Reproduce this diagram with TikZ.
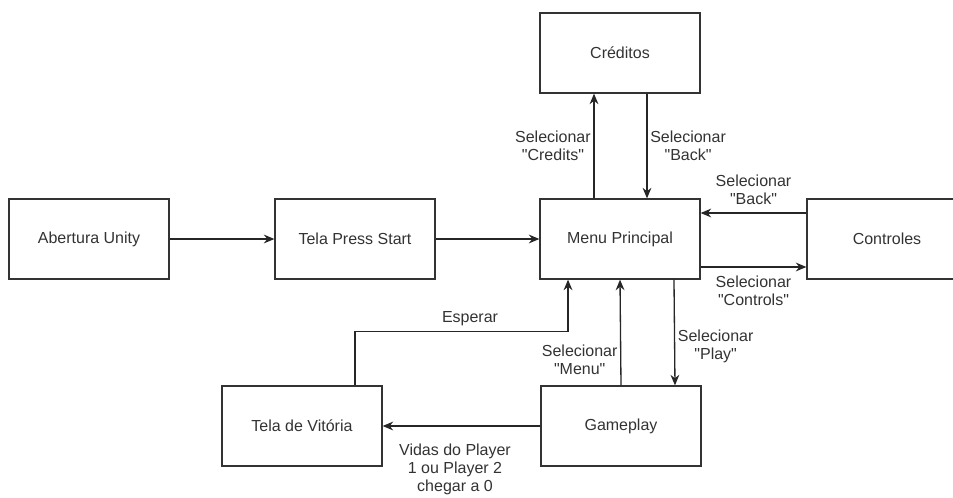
\documentclass[tikz,border=0pt]{standalone}
\usepackage{fontspec}
\setmainfont{Liberation Sans}[Ligatures=TeXOff]
\usetikzlibrary{arrows.meta}
\begin{document}
\begin{tikzpicture}
        [
        x=0.02cm, y=-0.02cm,
        Box/.style={rectangle,draw=black!80,line width=0.75pt,text=black!80,font=\fontsize{9.1pt}{10.2pt}\selectfont, minimum width=3.2cm, minimum height=1.6cm},
            Tag/.style={rectangle,text=black!80,font=\fontsize{9.1pt}{10.2pt}\selectfont,align=center,inner sep=1.5pt},
			Flow/.style={draw=black!85,line width=0.75pt,-{Stealth[length=6pt,width=5pt]}},
        ]
    
        \clip (0,0) rectangle (953,497);
        \fill[white] (0,0) rectangle (953,497);
        \node[Box] (cred) at (620,53){Créditos};
		\node[Box] (abert) at (89,239){Abertura Unity};
        \node[Box] (press) at (355,239){Tela Press Start};
        \node[Box] (menu) at (620,239){Menu Principal};
\node[Box] (ctrl) at (887,239){Controles};
\node[Box] (vit) at (302,426){Tela de Vitória};
\node[Box] (game) at (621,426){Gameplay};

\draw[Flow] (abert) -- (press);
\draw[Flow] (press) -- (menu);

\draw[Flow] ([xshift=-0.52cm]menu.north) -- node[Tag,anchor=east]{Selecionar\\"Credits"} ([xshift=-0.52cm]cred.south);
\draw[Flow] ([xshift=0.54cm]cred.south) -- node[Tag,anchor=west]{Selecionar\\"Back"} ([xshift=0.54cm]menu.north);

\draw[Flow] ([yshift=0.52cm]ctrl.west) -- node[Tag,above=3pt]{Selecionar\\"Back"} ([yshift=0.52cm]menu.east);
\draw[Flow] ([yshift=-0.56cm]menu.east) -- node[Tag,below=3pt]{Selecionar\\"Controls"} ([yshift=-0.56cm]ctrl.west);

\draw[Flow] ([xshift=1.08cm]menu.south) -- node[Tag,anchor=west,pos=0.63]{Selecionar\\"Play"} ([xshift=1.08cm]game.north);
\draw[Flow] (game.north) -- node[Tag,anchor=east,pos=0.24]{Selecionar\\"Menu"} (menu.south);

\draw[Flow] ([xshift=1.06cm]vit.north) -- ++(0,1.08cm) -| node[Tag,pos=0.27,above=1pt]{Esperar} ([xshift=-1.04cm]menu.south);

\draw[Flow] (game) -- node[Tag,below=0.3cm,xshift=-0.13cm]{Vidas do Player\\1 ou Player 2\\chegar a 0} (vit);
    
    \end{tikzpicture}
\end{document}
